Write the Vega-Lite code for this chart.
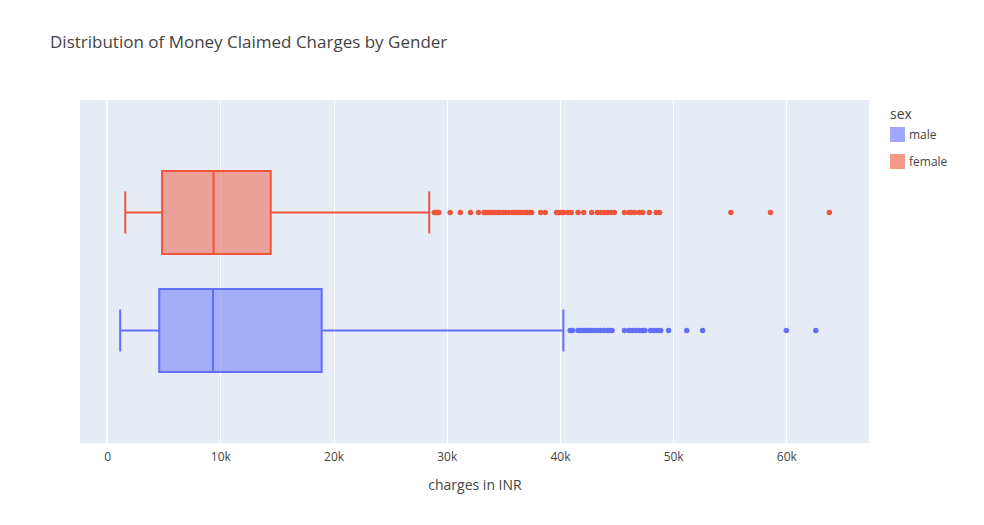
{
"$schema":"https://vega.github.io/schema/vega-lite/v6.json",
"width":789,"height":343,
"autosize":{"type":"none"},
"padding":{"left":80,"top":100,"right":115,"bottom":82},
"background":"white",
"config":{"view":{"fill":"#e5ecf6","stroke":null},"font":"Open Sans"},
"title":{"text":"Distribution of Money Claimed Charges by Gender","anchor":"start","frame":"group","dx":-30,"offset":47,"fontSize":17,"fontWeight":"normal","color":"#444","font":"Open Sans"},
"datasets":{
"stats":[
{"sex":"female","lo":1600,"q1":4850,"med":9400,"q3":14450,"hi":28450},
{"sex":"male","lo":1150,"q1":4600,"med":9350,"q3":18950,"hi":40300}
],
"out":[
{"sex":"female","v":28900},{"sex":"female","v":29000},{"sex":"female","v":29100},{"sex":"female","v":29200},{"sex":"female","v":29300},{"sex":"female","v":30300},{"sex":"female","v":31200},{"sex":"female","v":32100},{"sex":"female","v":32800},{"sex":"female","v":33300},{"sex":"female","v":33500},{"sex":"female","v":33700},{"sex":"female","v":33900},{"sex":"female","v":34100},{"sex":"female","v":34300},{"sex":"female","v":34500},{"sex":"female","v":34700},{"sex":"female","v":35000},{"sex":"female","v":35200},{"sex":"female","v":35500},{"sex":"female","v":35800},{"sex":"female","v":36000},{"sex":"female","v":36200},{"sex":"female","v":36400},{"sex":"female","v":36600},{"sex":"female","v":36900},{"sex":"female","v":37100},{"sex":"female","v":37300},{"sex":"female","v":37500},{"sex":"female","v":38300},{"sex":"female","v":38700},{"sex":"female","v":39700},{"sex":"female","v":39900},{"sex":"female","v":40100},{"sex":"female","v":40300},{"sex":"female","v":40700},{"sex":"female","v":41000},{"sex":"female","v":41600},{"sex":"female","v":42100},{"sex":"female","v":42800},{"sex":"female","v":43300},{"sex":"female","v":43600},{"sex":"female","v":43900},{"sex":"female","v":44200},{"sex":"female","v":44500},{"sex":"female","v":44800},{"sex":"female","v":45700},{"sex":"female","v":46100},{"sex":"female","v":46300},{"sex":"female","v":46600},{"sex":"female","v":47000},{"sex":"female","v":47300},{"sex":"female","v":47900},{"sex":"female","v":48500},{"sex":"female","v":48800},{"sex":"female","v":55100},{"sex":"female","v":58600},{"sex":"female","v":63800},
{"sex":"male","v":40900},{"sex":"male","v":41100},{"sex":"male","v":41600},{"sex":"male","v":41800},{"sex":"male","v":42000},{"sex":"male","v":42200},{"sex":"male","v":42400},{"sex":"male","v":42600},{"sex":"male","v":42800},{"sex":"male","v":43000},{"sex":"male","v":43300},{"sex":"male","v":43600},{"sex":"male","v":43900},{"sex":"male","v":44200},{"sex":"male","v":44400},{"sex":"male","v":44600},{"sex":"male","v":45700},{"sex":"male","v":46100},{"sex":"male","v":46400},{"sex":"male","v":46700},{"sex":"male","v":47000},{"sex":"male","v":47300},{"sex":"male","v":47500},{"sex":"male","v":48000},{"sex":"male","v":48300},{"sex":"male","v":48600},{"sex":"male","v":48900},{"sex":"male","v":49600},{"sex":"male","v":51200},{"sex":"male","v":52600},{"sex":"male","v":60000},{"sex":"male","v":62600}
]},
"encoding":{
"y":{"field":"sex","type":"nominal","scale":{"type":"point","domain":["female","male"],"padding":0.953},"axis":null},
"color":{"field":"sex","type":"nominal","scale":{"domain":["male","female"],"range":["#636efa","#EF553B"]},
"legend":{"title":"sex","orient":"none","legendX":810,"legendY":8,"titleFontSize":14,"titleFontWeight":"normal","titleColor":"#444","labelFontSize":12,"labelColor":"#444","symbolType":"square","symbolSize":180,"symbolOpacity":0.6,"rowPadding":6}}
},
"layer":[
{"data":{"name":"stats"},"mark":{"type":"rule","strokeWidth":2},
"encoding":{"x":{"field":"lo","type":"quantitative","scale":{"domain":[-2400,67300],"nice":false,"zero":false},
"axis":{"title":"charges in INR","titleFontSize":14,"titleFontWeight":"normal","titleColor":"#444","titlePadding":16,"values":[0,10000,20000,30000,40000,50000,60000],"labelExpr":"datum.value==0?'0':(datum.value/1000)+'k'","labelColor":"#444","labelFontSize":12,"domain":false,"ticks":false,"gridColor":"white","gridWidth":1,"labelPadding":8}},
"x2":{"field":"q1"}}},
{"data":{"name":"stats"},"mark":{"type":"rule","strokeWidth":2},"encoding":{"x":{"field":"q3","type":"quantitative"},"x2":{"field":"hi"}}},
{"data":{"name":"stats"},"mark":{"type":"bar","size":83,"fillOpacity":0.5,"strokeWidth":2},"encoding":{"x":{"field":"q1","type":"quantitative"},"x2":{"field":"q3"},"stroke":{"field":"sex","type":"nominal","scale":{"domain":["male","female"],"range":["#636efa","#EF553B"]},"legend":null}}},
{"data":{"name":"stats"},"mark":{"type":"tick","orient":"vertical","size":83,"thickness":2,"opacity":1},"encoding":{"x":{"field":"med","type":"quantitative"}}},
{"data":{"name":"stats"},"mark":{"type":"tick","orient":"vertical","size":42,"thickness":2,"opacity":1},"encoding":{"x":{"field":"lo","type":"quantitative"}}},
{"data":{"name":"stats"},"mark":{"type":"tick","orient":"vertical","size":42,"thickness":2,"opacity":1},"encoding":{"x":{"field":"hi","type":"quantitative"}}},
{"data":{"name":"out"},"mark":{"type":"circle","size":30,"opacity":1},"encoding":{"x":{"field":"v","type":"quantitative"}}},
{"data":{"values":[{"z":0}]},"mark":{"type":"rule","color":"white","strokeWidth":2},"encoding":{"x":{"field":"z","type":"quantitative"},"y":{"value":0},"y2":{"value":343},"color":{"value":"white"}}}
]
}
